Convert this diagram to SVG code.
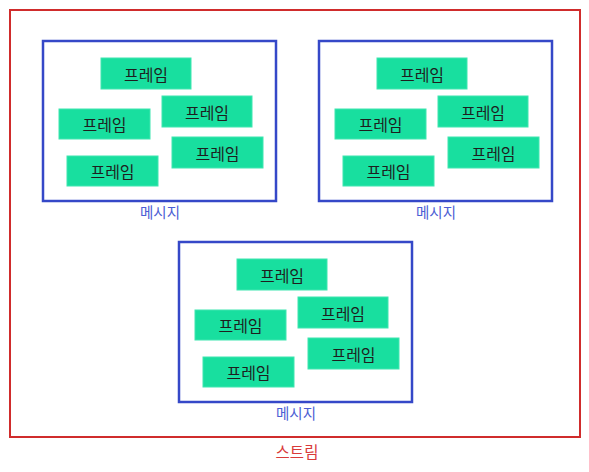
<svg xmlns="http://www.w3.org/2000/svg" width="589" height="472" viewBox="0 0 589 472">
<style>
.frame rect{fill:#18df9f;stroke:#3fe6b0;stroke-width:1}
.frame text{font-family:"Noto Sans CJK KR","Noto Sans",sans-serif;font-size:16px;fill:#1e1e1e;text-anchor:middle;dominant-baseline:central}
.msg{fill:none;stroke:#3548c8;stroke-width:2.5}
.msglabel{font-family:"Noto Sans CJK KR","Noto Sans",sans-serif;font-size:14.5px;fill:#4b5ed4;text-anchor:middle}
.stream{fill:none;stroke:#d02c2c;stroke-width:2}
.streamlabel{font-family:"Noto Sans CJK KR","Noto Sans",sans-serif;font-size:15.5px;fill:#d93a3a;text-anchor:middle}
</style>
<defs>
<g id="frames">
<g class="frame"><rect x="101" y="58" width="90" height="31"/><text x="146" y="73.5">프레임</text></g>
<g class="frame"><rect x="162" y="96" width="90" height="31"/><text x="207" y="111.5">프레임</text></g>
<g class="frame"><rect x="59" y="109" width="91" height="30"/><text x="104.5" y="124">프레임</text></g>
<g class="frame"><rect x="172" y="137" width="91" height="31"/><text x="217.5" y="152.5">프레임</text></g>
<g class="frame"><rect x="67" y="156" width="91" height="30"/><text x="112.5" y="171">프레임</text></g>
</g>
</defs>
<g id="stream">
<rect class="stream" x="10" y="10" width="570" height="427"/>
<text class="streamlabel" x="297" y="458">스트림</text>
</g>
<g id="message1">
<rect class="msg" x="43" y="41" width="233" height="160"/>
<use href="#frames"/>
<text class="msglabel" x="160" y="218">메시지</text>
</g>
<g id="message2" transform="translate(276,0)">
<rect class="msg" x="43" y="41" width="233" height="160"/>
<use href="#frames"/>
<text class="msglabel" x="160" y="218">메시지</text>
</g>
<g id="message3" transform="translate(136,201)">
<rect class="msg" x="43" y="41" width="233" height="160"/>
<use href="#frames"/>
<text class="msglabel" x="160" y="218">메시지</text>
</g>
<g id="connectors"></g>
</svg>
